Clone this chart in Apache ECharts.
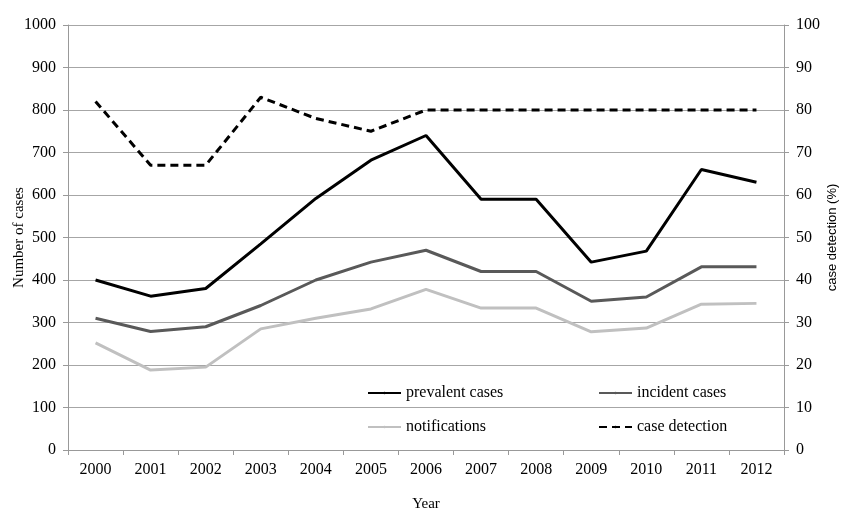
<!DOCTYPE html>
<html><head><meta charset="utf-8">
<script src="https://cdn.jsdelivr.net/npm/echarts@6/dist/echarts.min.js"></script>
<style>html,body{margin:0;padding:0;background:#fff}#c{width:842px;height:509px}</style>
</head><body><div id="c"></div>
<script>
const years = ['2000','2001','2002','2003','2004','2005','2006','2007','2008','2009','2010','2011','2012'];
const prevalent = [400, 362, 380, 485, 592, 682, 740, 590, 590, 442, 468, 660, 630];
const incident = [310, 279, 290, 340, 400, 442, 470, 420, 420, 350, 360, 431, 431];
const notifications = [252, 188, 195, 285, 310, 332, 378, 334, 334, 278, 287, 343, 345];
const caseDetection = [82, 67, 67, 83, 78, 75, 80, 80, 80, 80, 80, 80, 80];

const font = 'Liberation Serif';
const chart = echarts.init(document.getElementById('c'));
const legendBase = {itemWidth: 33, itemHeight: 3, itemGap: 4, textStyle: {fontFamily: font, fontSize: 16, color: '#000'}};
chart.setOption({
  animation: false,
  textStyle: {fontFamily: font},
  grid: {left: 68, right: 58, top: 25, bottom: 59, containLabel: false, outerBoundsMode: 'none'},
  legend: [
    Object.assign({data: ['prevalent cases'], left: 362, top: 380}, legendBase),
    Object.assign({data: ['incident cases'], left: 593, top: 380}, legendBase),
    Object.assign({data: ['notifications'], left: 362, top: 414}, legendBase),
    Object.assign({data: ['case detection'], left: 593, top: 414}, legendBase)
  ],
  xAxis: {
    type: 'category', data: years, boundaryGap: true,
    name: 'Year', nameLocation: 'middle', nameGap: 47, nameMoveOverlap: false,
    nameTextStyle: {fontFamily: font, fontSize: 15, color: '#000'},
    axisLine: {lineStyle: {color: '#999'}},
    axisTick: {show: true, length: 5, lineStyle: {color: '#999'}},
    axisLabel: {fontFamily: font, fontSize: 16, color: '#000', margin: 12}
  },
  yAxis: [{
    type: 'value', min: 0, max: 1000, interval: 100,
    name: 'Number of cases', nameLocation: 'middle', nameGap: 41, nameMoveOverlap: false,
    nameTextStyle: {fontFamily: font, fontSize: 15, color: '#000'},
    axisLine: {show: true, lineStyle: {color: '#999'}},
    axisTick: {show: true, length: 5, lineStyle: {color: '#999'}},
    axisLabel: {fontFamily: font, fontSize: 16, color: '#000', margin: 12, formatter: v => String(v)},
    splitLine: {lineStyle: {color: '#a6a6a6', width: 1}}
  }, {
    type: 'value', min: 0, max: 100, interval: 10,
    name: 'case detection (%)', nameLocation: 'middle', nameGap: 42, nameMoveOverlap: false,
    nameTextStyle: {fontFamily: 'Liberation Sans', fontSize: 13, color: '#000'},
    axisLine: {show: true, lineStyle: {color: '#999'}},
    axisTick: {show: true, length: 5, lineStyle: {color: '#999'}},
    axisLabel: {fontFamily: font, fontSize: 16, color: '#000', margin: 12},
    splitLine: {show: false}
  }],
  series: [
    {name: 'prevalent cases', type: 'line', data: prevalent, symbol: 'none', lineStyle: {color: '#000', width: 3}, itemStyle: {color: '#000'}},
    {name: 'incident cases', type: 'line', data: incident, symbol: 'none', lineStyle: {color: '#595959', width: 3}, itemStyle: {color: '#595959'}},
    {name: 'notifications', type: 'line', data: notifications, symbol: 'none', lineStyle: {color: '#c0c0c0', width: 3}, itemStyle: {color: '#c0c0c0'}},
    {name: 'case detection', type: 'line', yAxisIndex: 1, data: caseDetection, symbol: 'none', lineStyle: {color: '#000', width: 3, type: [8, 5]}, itemStyle: {color: '#000'}}
  ]
});
</script></body></html>
